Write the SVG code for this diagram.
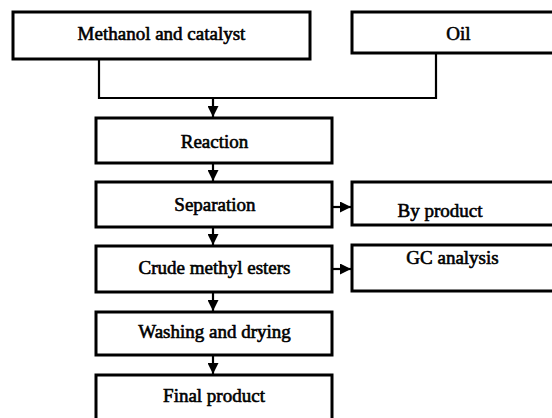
<svg xmlns="http://www.w3.org/2000/svg" width="552" height="418" viewBox="0 0 552 418">
<defs>
<style>
.box{fill:#fff;stroke:#000;stroke-width:3}
.t{font-family:"Liberation Serif","Times New Roman",serif;font-size:19px;fill:#000;text-anchor:middle;stroke:#000;stroke-width:0.6}
.c{fill:none;stroke:#000;stroke-width:2.2}
</style>
<marker id="ah" viewBox="0 0 10 10" refX="10" refY="5" markerWidth="11" markerHeight="11" markerUnits="userSpaceOnUse" orient="auto">
<path d="M0,0 L10,5 L0,10 Z" fill="#000"/>
</marker>
</defs>
<rect width="552" height="418" fill="#fff"/>
<g id="connectors">
<polyline class="c" points="99,60 99,98 436,98 436,53"/>
<line class="c" x1="213" y1="98" x2="213" y2="117" marker-end="url(#ah)"/>
<line class="c" x1="213" y1="163" x2="213" y2="181" marker-end="url(#ah)"/>
<line class="c" x1="213" y1="227" x2="213" y2="245" marker-end="url(#ah)"/>
<line class="c" x1="213" y1="292" x2="213" y2="311" marker-end="url(#ah)"/>
<line class="c" x1="213" y1="355" x2="213" y2="374" marker-end="url(#ah)"/>
<line class="c" x1="332" y1="207" x2="351" y2="207" marker-end="url(#ah)"/>
<line class="c" x1="332" y1="269" x2="351" y2="269" marker-end="url(#ah)"/>
</g>
<g id="methanol"><rect class="box" x="13" y="12" width="297" height="47"/><text class="t" x="161.5" y="39.5">Methanol and catalyst</text></g>
<g id="oil"><rect class="box" x="352" y="12" width="210" height="41"/><text class="t" x="458.5" y="40">Oil</text></g>
<g id="reaction"><rect class="box" x="96" y="118" width="236" height="45"/><text class="t" x="214.5" y="148">Reaction</text></g>
<g id="separation"><rect class="box" x="96" y="182" width="236" height="45"/><text class="t" x="215" y="211">Separation</text></g>
<g id="byproduct"><rect class="box" x="352" y="182" width="210" height="43"/><text class="t" x="440" y="217">By product</text></g>
<g id="crude"><rect class="box" x="96" y="246" width="236" height="46"/><text class="t" x="214.5" y="274">Crude methyl esters</text></g>
<g id="gc"><rect class="box" x="352" y="245" width="210" height="46"/><text class="t" x="452.5" y="264">GC analysis</text></g>
<g id="washing"><rect class="box" x="96" y="312" width="236" height="43"/><text class="t" x="214.5" y="338">Washing and drying</text></g>
<g id="final"><rect class="box" x="96" y="375" width="236" height="60"/><text class="t" x="214" y="402">Final product</text></g>
</svg>
